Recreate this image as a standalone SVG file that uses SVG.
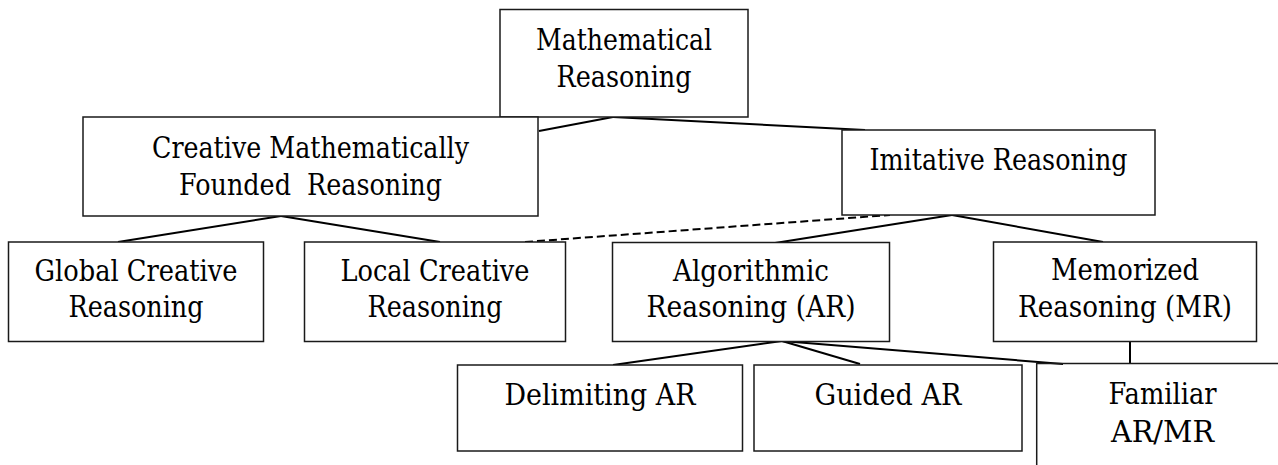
<svg xmlns="http://www.w3.org/2000/svg" width="1278" height="465" viewBox="0 0 1278 465">
<style>
.box{fill:#fff;stroke:#1a1a1a;stroke-width:1.5}
.t{font-family:"DejaVu Serif",serif;font-size:30px;fill:#000;text-anchor:middle}
.c{stroke:#000;stroke-width:2;fill:none}
.d{stroke:#000;stroke-width:2;fill:none;stroke-dasharray:8 4}
</style>
<rect width="1278" height="465" fill="#fff"/>
<g id="connectors">
<line class="c" x1="613" y1="117" x2="539" y2="131"/>
<line class="c" x1="613" y1="117" x2="865" y2="130"/>
<line class="c" x1="281" y1="216" x2="118" y2="242"/>
<line class="c" x1="281" y1="216" x2="440" y2="242"/>
<line class="d" x1="525" y1="242" x2="890" y2="215"/>
<line class="c" x1="952" y1="215" x2="775" y2="243"/>
<line class="c" x1="952" y1="215" x2="1103" y2="242"/>
<line class="c" x1="782" y1="341" x2="613" y2="365"/>
<line class="c" x1="782" y1="341" x2="860" y2="364"/>
<line class="c" x1="782" y1="341" x2="1063" y2="364"/>
<line class="c" x1="1130" y1="342" x2="1130" y2="364"/>
</g>
<g id="n-math">
<rect class="box" x="500" y="9.5" width="248" height="107.5"/>
<text class="t" x="624" y="50" textLength="176" lengthAdjust="spacingAndGlyphs">Mathematical</text>
<text class="t" x="624" y="87" textLength="135" lengthAdjust="spacingAndGlyphs">Reasoning</text>
</g>
<g id="n-creative">
<rect class="box" x="83" y="117" width="455" height="99"/>
<text class="t" x="310.5" y="158" textLength="317" lengthAdjust="spacingAndGlyphs">Creative Mathematically</text>
<text class="t" x="310.5" y="195" textLength="263" lengthAdjust="spacingAndGlyphs" xml:space="preserve" style="white-space:pre">Founded  Reasoning</text>
</g>
<g id="n-imitative">
<rect class="box" x="842" y="130" width="313" height="85"/>
<text class="t" x="998.5" y="170" textLength="258" lengthAdjust="spacingAndGlyphs">Imitative Reasoning</text>
</g>
<g id="n-global">
<rect class="box" x="8.5" y="242" width="255" height="99.5"/>
<text class="t" x="136" y="281" textLength="203" lengthAdjust="spacingAndGlyphs">Global Creative</text>
<text class="t" x="136" y="317" textLength="135" lengthAdjust="spacingAndGlyphs">Reasoning</text>
</g>
<g id="n-local">
<rect class="box" x="304.5" y="242" width="261" height="99.5"/>
<text class="t" x="435" y="281" textLength="189" lengthAdjust="spacingAndGlyphs">Local Creative</text>
<text class="t" x="435" y="317" textLength="135" lengthAdjust="spacingAndGlyphs">Reasoning</text>
</g>
<g id="n-algorithmic">
<rect class="box" x="612.5" y="242.5" width="277" height="99"/>
<text class="t" x="751" y="281" textLength="156" lengthAdjust="spacingAndGlyphs">Algorithmic</text>
<text class="t" x="751" y="317" textLength="209" lengthAdjust="spacingAndGlyphs">Reasoning (AR)</text>
</g>
<g id="n-memorized">
<rect class="box" x="993.5" y="242" width="263" height="99.5"/>
<text class="t" x="1125" y="280" textLength="148" lengthAdjust="spacingAndGlyphs">Memorized</text>
<text class="t" x="1125" y="317" textLength="214" lengthAdjust="spacingAndGlyphs">Reasoning (MR)</text>
</g>
<g id="n-delimiting">
<rect class="box" x="457.5" y="365" width="285" height="86"/>
<text class="t" x="600" y="405" textLength="191" lengthAdjust="spacingAndGlyphs">Delimiting AR</text>
</g>
<g id="n-guided">
<rect class="box" x="754" y="365" width="268" height="86"/>
<text class="t" x="888" y="405" textLength="147" lengthAdjust="spacingAndGlyphs">Guided AR</text>
</g>
<g id="n-familiar">
<path class="box" d="M1036.7 465 V363.5 H1278" style="fill:none"/>
<text class="t" x="1162.5" y="404" textLength="108" lengthAdjust="spacingAndGlyphs">Familiar</text>
<text class="t" x="1162.5" y="441.5" textLength="103" lengthAdjust="spacingAndGlyphs">AR/MR</text>
</g>
</svg>
